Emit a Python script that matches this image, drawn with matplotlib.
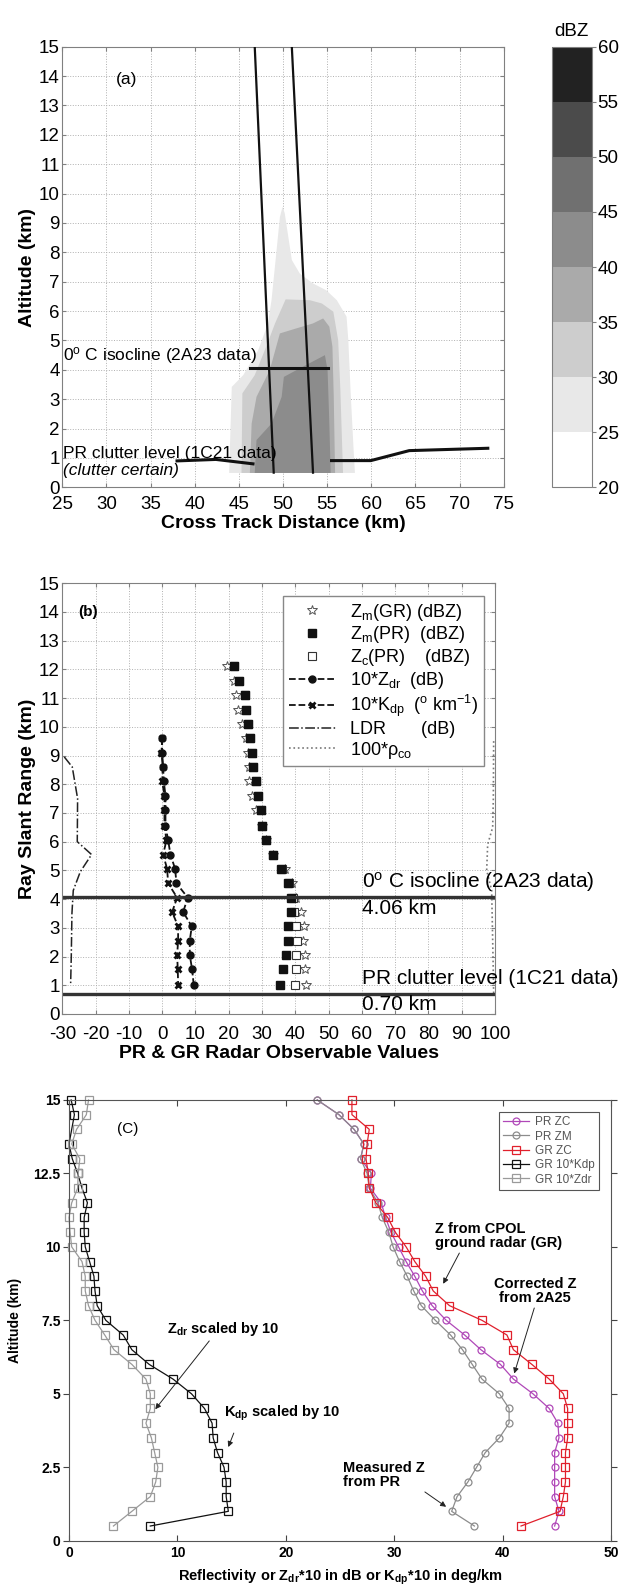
import numpy as np
import matplotlib
matplotlib.use("Agg")
import matplotlib.pyplot as plt
from matplotlib.colors import ListedColormap, BoundaryNorm
from matplotlib.cm import ScalarMappable
from matplotlib.lines import Line2D

plt.rcParams["font.family"] = ["Liberation Sans", "DejaVu Sans"]
plt.rcParams["mathtext.fontset"] = "custom"
plt.rcParams["mathtext.rm"] = "Liberation Sans"
plt.rcParams["mathtext.it"] = "Liberation Sans:italic"
plt.rcParams["mathtext.bf"] = "Liberation Sans:bold"
plt.rcParams["mathtext.default"] = "regular"
plt.rcParams["axes.unicode_minus"] = False

# ---------------- panel (a): cross section ----------------
dbz_bounds = [20, 25, 30, 35, 40, 45, 50, 55, 60]
dbz_greys = ["#ffffff", "#e8e8e8", "#cdcdcd", "#aaaaaa", "#8c8c8c",
             "#707070", "#4b4b4b", "#222222"]

# outlines of the filled reflectivity regions (km, km)
z25_x = [43.9, 44.2, 45.5, 47.2, 48.3, 48.7, 49.2, 49.65, 49.95, 50.2, 50.6,
         51.0, 51.9, 53.4, 54.9, 56.1, 57.2, 57.4, 57.65, 58.0, 58.15]
z25_y = [0.49, 3.42, 3.82, 4.67, 5.58, 6.37, 7.85, 9.2, 9.55, 9.33, 8.53,
         7.74, 7.28, 6.94, 6.71, 6.37, 5.81, 5.01, 3.31, 1.27, 0.49]
z30_x = [45.3, 45.4, 46.8, 48.1, 49.1, 50.3, 53.05, 54.4, 55.7, 56.25, 56.5, 56.8]
z30_y = [0.49, 3.2, 3.82, 4.79, 5.58, 6.4, 6.37, 6.26, 5.98, 5.01, 3.31, 0.49]
z35_x = [46.25, 46.45, 47.0, 48.5, 49.65, 51.5, 53.4, 54.55, 55.25, 55.6, 55.75, 55.9]
z35_y = [0.49, 2.17, 3.08, 3.99, 5.24, 5.41, 5.58, 5.75, 5.47, 4.79, 3.08, 0.49]
z40_x = [46.8, 47.0, 48.7, 49.85, 50.1, 51.9, 54.75, 55.05, 55.25, 55.4]
z40_y = [0.49, 1.61, 2.17, 3.08, 3.76, 4.05, 4.5, 3.99, 2.17, 0.49]

beam_y = [15.0, 0.5]
beam_left_x = [46.8, 48.95]
beam_right_x = [51.0, 53.4]
iso_x = [46.3, 55.05]
iso_alt = 4.05
clut_left_x = [38.0, 42.4, 46.6]
clut_left_y = [0.9, 0.95, 0.8]
clut_right_x = [55.5, 59.95, 64.3, 73.2]
clut_right_y = [0.91, 0.91, 1.25, 1.33]

# ---------------- panel (b): profiles along the ray ----------------
alt_b = [12.1, 11.6, 11.1, 10.6, 10.1, 9.6, 9.1, 8.6, 8.1, 7.6, 7.1, 6.55,
         6.05, 5.55, 5.05, 4.55, 4.05, 3.55, 3.05, 2.55, 2.05, 1.55, 1.0]
zm_gr = [19.4, 21.5, 22.3, 22.9, 23.9, 25.3, 25.8, 26.0, 26.0, 27.0, 28.3, 30.0,
         31.2, 33.3, 37.0, 39.0, 40.2, 41.7, 42.7, 42.4, 42.9, 42.9, 43.1]
zm_pr = [21.7, 23.0, 24.8, 25.3, 25.9, 26.5, 27.0, 27.2, 28.3, 28.9, 29.7, 30.1,
         31.3, 33.4, 35.8, 37.7, 38.6, 38.6, 37.8, 37.8, 37.2, 36.4, 35.4]
zc_pr = [21.7, 23.0, 24.8, 25.3, 25.9, 26.5, 27.0, 27.2, 28.3, 28.9, 29.7, 30.1,
         31.3, 33.4, 36.0, 38.2, 39.4, 39.6, 40.2, 40.5, 40.3, 40.3, 39.8]
alt_pol = [9.6, 9.1, 8.6, 8.1, 7.6, 7.1, 6.55, 6.05, 5.55, 5.05, 4.55, 4.05,
           3.55, 3.05, 2.55, 2.05, 1.55, 1.0]
zdr10 = [0.0, 0.0, 0.3, 0.5, 1.0, 1.0, 1.0, 1.8, 2.5, 3.9, 4.3, 7.7,
         6.3, 8.9, 8.3, 8.3, 9.0, 9.5]
kdp10 = [0.0, -0.2, 0.2, 0.0, 0.7, 0.7, 0.7, 1.3, 0.3, 1.5, 1.8, 4.5,
         3.0, 4.8, 4.8, 4.5, 4.7, 4.8]
ldr_x = [-29.4, -27.0, -25.4, -25.5, -21.2, -24.6, -26.7, -27.1, -27.3, -27.5]
ldr_y = [8.95, 8.6, 7.5, 6.0, 5.55, 4.95, 4.3, 3.5, 2.0, 1.0]
rho_x = [99.6, 99.5, 99.3, 97.8, 97.5, 99.0, 99.4, 99.6]
rho_y = [9.5, 7.5, 6.5, 5.9, 5.0, 4.3, 2.0, 0.7]
bb_alt = 4.06
clutter_alt = 0.70

# ---------------- panel (c): PR vs GR profiles ----------------
alt_c = [15, 14.5, 14, 13.5, 13, 12.5, 12, 11.5, 11, 10.5, 10, 9.5, 9, 8.5, 8,
         7.5, 7, 6.5, 6, 5.5, 5, 4.5, 4, 3.5, 3, 2.5, 2, 1.5, 1, 0.5]
pr_zc = [22.9, 24.9, 26.3, 27.2, 26.9, 27.9, 27.8, 28.8, 29.2, 29.7, 30.4, 31.1,
         31.9, 32.6, 33.5, 34.8, 36.5, 38.0, 39.8, 41.0, 42.8, 44.3, 45.1, 45.2,
         44.8, 44.8, 44.8, 44.8, 45.2, 44.8]
pr_zm = [22.9, 24.9, 26.3, 27.2, 26.9, 27.5, 27.7, 28.5, 28.9, 29.5, 29.9, 30.5,
         31.2, 31.8, 32.5, 33.8, 35.2, 36.3, 37.2, 38.1, 39.7, 40.6, 40.6, 39.7,
         38.4, 37.6, 36.8, 35.8, 35.3, 37.4]
gr_zc = [26.1, 26.1, 27.7, 27.5, 27.4, 27.6, 27.7, 28.3, 29.4, 30.1, 31.1, 31.9,
         32.9, 33.6, 35.1, 38.1, 40.4, 41.0, 42.7, 44.3, 45.6, 46.0, 46.0, 46.0,
         45.8, 45.8, 45.8, 45.6, 45.3, 41.7]
alt_kdp = [15, 14.5, 13.5, 13, 12.5, 12, 11.5, 11, 10.5, 10, 9.5, 9, 8.5, 8,
           7.5, 7, 6.5, 6, 5.5, 5, 4.5, 4, 3.5, 3, 2.5, 2, 1.5, 1, 0.5]
gr_kdp10 = [0.2, 0.5, 0.0, 0.3, 0.8, 1.2, 1.7, 1.4, 1.4, 1.5, 1.9, 2.3, 2.4, 2.6,
            3.4, 5.0, 5.8, 7.4, 9.6, 11.3, 12.5, 13.2, 13.3, 13.7, 14.3, 14.5,
            14.5, 14.7, 7.5]
gr_zdr10 = [1.8, 1.6, 0.7, 0.25, 1.0, 0.85, 0.8, 0.25, 0.0, 0.1, 0.25, 1.2, 1.5,
            1.5, 1.8, 2.4, 3.3, 4.15, 5.8, 7.1, 7.5, 7.5, 7.1, 7.6, 7.9, 8.2,
            8.0, 7.5, 5.8, 4.1]

GRID = dict(color="#b0b0b0", linestyle=":", linewidth=0.7)
SPINE = "#808080"

fig = plt.figure(figsize=(6.21, 15.9), dpi=100)

# ======================= (a) =======================
ax = fig.add_axes([0.1003, 0.6935, 0.7108, 0.2771])
ax.set_xlim(25, 75)
ax.set_ylim(0, 15)
ax.set_xticks(np.arange(25, 76, 5))
ax.set_yticks(np.arange(0, 16, 1))
ax.grid(True, **GRID)
ax.set_axisbelow(True)
for xs, ys, c in [(z25_x, z25_y, dbz_greys[1]), (z30_x, z30_y, dbz_greys[2]),
                  (z35_x, z35_y, dbz_greys[3]), (z40_x, z40_y, dbz_greys[4])]:
    ax.fill(xs, ys, color=c, lw=0, zorder=2)
ax.plot(beam_left_x, beam_y, color="#111111", lw=1.6, zorder=4)
ax.plot(beam_right_x, beam_y, color="#111111", lw=1.6, zorder=4)
ax.plot(iso_x, [iso_alt, iso_alt], color="#111111", lw=2.2, zorder=4)
ax.plot(clut_left_x, clut_left_y, color="#111111", lw=2.2, zorder=4)
ax.plot(clut_right_x, clut_right_y, color="#111111", lw=2.2, zorder=4)
ax.text(32.3, 13.9, "(a)", fontsize=12.5, ha="center", va="center")
ax.text(25.1, 4.12, "0$^{o}$ C isocline (2A23 data)", fontsize=12.5,
        ha="left", va="bottom", zorder=5)
ax.text(25.1, 0.88, "PR clutter level (1C21 data)", fontsize=12.5,
        ha="left", va="bottom", zorder=5)
ax.text(25.1, 0.82, "(clutter certain)", fontsize=12.5, style="italic",
        ha="left", va="top", zorder=5)
ax.tick_params(direction="in", labelsize=13.5, length=3, color=SPINE,
               top=True, right=True, pad=2)
ax.tick_params(axis="x", pad=6)
for s in ax.spines.values():
    s.set_color(SPINE)
ax.set_ylabel("Altitude (km)", fontsize=14, fontweight="bold", labelpad=2)
ax.set_xlabel("Cross Track Distance (km)", fontsize=14, fontweight="bold",
              labelpad=2)

cax = fig.add_axes([0.8884, 0.6935, 0.0649, 0.2771])
cmap = ListedColormap(dbz_greys)
norm = BoundaryNorm(dbz_bounds, cmap.N)
cb = fig.colorbar(ScalarMappable(norm=norm, cmap=cmap), cax=cax,
                  ticks=dbz_bounds)
cb.ax.tick_params(labelsize=13.5, length=3, color=SPINE, pad=1)
cb.outline.set_edgecolor(SPINE)
cax.set_title("dBZ", fontsize=13.5, pad=8)

# ======================= (b) =======================
bx = fig.add_axes([0.1003, 0.3623, 0.6968, 0.2709])
bx.set_xlim(-30, 100)
bx.set_ylim(0, 15)
bx.set_xticks(np.arange(-30, 101, 10))
bx.set_yticks(np.arange(0, 16, 1))
bx.grid(True, **GRID)
bx.set_axisbelow(True)
bx.plot(ldr_x, ldr_y, color="#222222", lw=1.1, ls="-.")
bx.plot(rho_x, rho_y, color="#777777", lw=1.2, ls=":")
bx.plot(zdr10, alt_pol, color="#111111", lw=1.3, ls="--", marker="o", ms=5)
bx.plot(kdp10, alt_pol, color="#111111", lw=1.3, ls="--", marker="x", ms=5,
        mew=2)
bx.plot(zm_gr, alt_b, ls="none", marker="*", ms=7, mfc="white", mec="#555555",
        mew=0.7)
bx.plot(zc_pr, alt_b, ls="none", marker="s", ms=5.5, mfc="white", mec="#333333",
        mew=0.8)
bx.plot(zm_pr, alt_b, ls="none", marker="s", ms=5.5, color="#111111")
bx.axhline(bb_alt, color="#333333", lw=2.4)
bx.axhline(clutter_alt, color="#333333", lw=2.4)
bx.text(60, bb_alt + 0.1, "0$^{o}$ C isocline (2A23 data)", fontsize=15,
        ha="left", va="bottom", clip_on=False)
bx.text(60, bb_alt - 0.05, "%.2f km" % bb_alt, fontsize=15, ha="left",
        va="top", clip_on=False)
bx.text(60, clutter_alt + 0.22, "PR clutter level (1C21 data)", fontsize=15,
        ha="left", va="bottom", clip_on=False)
bx.text(60, clutter_alt - 0.05, "%.2f km" % clutter_alt, fontsize=15,
        ha="left", va="top", clip_on=False)
bx.text(-22.3, 14.0, "(b)", fontsize=11, fontweight="bold", ha="center",
        va="center")

handles_b = [
    Line2D([], [], ls="none", marker="*", ms=7, mfc="white", mec="#555555",
           mew=0.7),
    Line2D([], [], ls="none", marker="s", ms=5.5, color="#111111"),
    Line2D([], [], ls="none", marker="s", ms=5.5, mfc="white", mec="#333333",
           mew=0.8),
    Line2D([], [], ls="--", lw=1.3, color="#111111", marker="o", ms=5),
    Line2D([], [], ls="--", lw=1.3, color="#111111", marker="x", ms=5, mew=2),
    Line2D([], [], ls="-.", lw=1.1, color="#222222"),
    Line2D([], [], ls=":", lw=1.2, color="#777777"),
]
labels_b = [
    "Z$_m$(GR) (dBZ)",
    "Z$_m$(PR)  (dBZ)",
    "Z$_c$(PR)    (dBZ)",
    "10*Z$_{dr}$  (dB)",
    "10*K$_{dp}$  ($^{o}$ km$^{-1}$)",
    "LDR       (dB)",
    "100*$\\rho_{co}$",
]
lb = bx.legend(handles_b, labels_b, loc="upper right",
               bbox_to_anchor=(0.995, 0.991), fontsize=13, handlelength=2.6,
               labelspacing=0.1, borderpad=0.3, handletextpad=0.8,
               fancybox=False, framealpha=1, edgecolor="#888888")
lb.get_frame().set_linewidth(1.0)
bx.tick_params(direction="in", labelsize=13.5, length=3, color=SPINE,
               top=True, right=True, pad=2)
bx.tick_params(axis="x", pad=9)
for s in bx.spines.values():
    s.set_color(SPINE)
bx.set_ylabel("Ray Slant Range (km)", fontsize=14, fontweight="bold",
              labelpad=2)
bx.set_xlabel("PR & GR Radar Observable Values", fontsize=14,
              fontweight="bold", labelpad=1)

# ======================= (c) =======================
cx = fig.add_axes([0.1111, 0.0310, 0.8728, 0.2772])
cx.set_xlim(0, 50)
cx.set_ylim(0, 15)
cx.set_xticks([0, 10, 20, 30, 40, 50])
cx.set_yticks([0, 2.5, 5, 7.5, 10, 12.5, 15])
cx.set_yticklabels(["0", "2.5", "5", "7.5", "10", "12.5", "15"])
kw = dict(lw=0.9, mfc="none", mew=0.9, clip_on=False)
cx.plot(pr_zc, alt_c, color="#b048b8", marker="o", ms=5, label="PR ZC", **kw)
cx.plot(pr_zm, alt_c, color="#8c8c8c", marker="o", ms=5, label="PR ZM", **kw)
cx.plot(gr_zc, alt_c, color="#e0202c", marker="s", ms=5.5, label="GR ZC", **kw)
cx.plot(gr_kdp10, alt_kdp, color="#111111", marker="s", ms=5.5,
        label="GR 10*Kdp", **kw)
cx.plot(gr_zdr10, alt_c, color="#9a9a9a", marker="s", ms=5.5,
        label="GR 10*Zdr", **kw)
lc = cx.legend(loc="upper right", bbox_to_anchor=(0.989, 0.986), fontsize=8.5,
               handlelength=2.2, labelspacing=0.2, borderpad=0.35,
               handletextpad=0.5, fancybox=False, framealpha=1,
               edgecolor="#555555")
lc.get_frame().set_linewidth(0.8)
for t in lc.get_texts():
    t.set_color("#555555")

cx.text(5.4, 14.0, "(C)", fontsize=11, ha="center", va="center")
FS = 10.5
akw = dict(fontsize=FS, fontweight="bold", ha="left", va="center")
arr = dict(arrowstyle="-|>", color="#222222", lw=0.7, mutation_scale=8)
cx.annotate("$\\mathbf{Z_{dr}}$ scaled by 10", xy=(7.8, 4.4), xytext=(9.0, 7.2),
            arrowprops=dict(arr, shrinkA=0, relpos=(0.4, 0.0)), **akw)
cx.annotate("$\\mathbf{K_{dp}}$ scaled by 10", xy=(14.6, 3.1),
            xytext=(14.3, 4.35),
            arrowprops=dict(arr, shrinkA=6, relpos=(0.12, 0.0)), **akw)
cx.annotate("Z from CPOL\nground radar (GR)", xy=(34.4, 8.66),
            xytext=(33.8, 10.37),
            arrowprops=dict(arr, shrinkA=0, relpos=(0.2, 0.0)),
            linespacing=1.05, **akw)
cx.annotate("Corrected Z\nfrom 2A25", xy=(41.0, 5.6), xytext=(43.0, 8.5),
            arrowprops=dict(arr, shrinkA=0, relpos=(0.5, 0.0)),
            linespacing=1.05, fontsize=FS, fontweight="bold", ha="center",
            va="center")
cx.annotate("Measured Z\nfrom PR", xy=(35.0, 1.1), xytext=(25.3, 2.24),
            arrowprops=dict(arr, shrinkA=0, relpos=(0.9, 0.1)),
            linespacing=1.05, **akw)

cx.tick_params(axis="x", direction="in", labelsize=10, length=4, top=True,
               pad=4, color="#444444")
cx.tick_params(axis="y", direction="out", labelsize=10, length=4, right=True,
               pad=2, color="#444444")
for t in cx.get_xticklabels() + cx.get_yticklabels():
    t.set_fontweight("bold")
for s in cx.spines.values():
    s.set_color("#555555")
cx.set_ylabel("Altitude (km)", fontsize=10, fontweight="bold", labelpad=8)
cx.set_xlabel("Reflectivity or Z$_{dr}$*10 in dB or K$_{dp}$*10 in deg/km",
              fontsize=10.5, fontweight="bold", labelpad=5)

fig.savefig("out.png", dpi=100)
plt.close(fig)
